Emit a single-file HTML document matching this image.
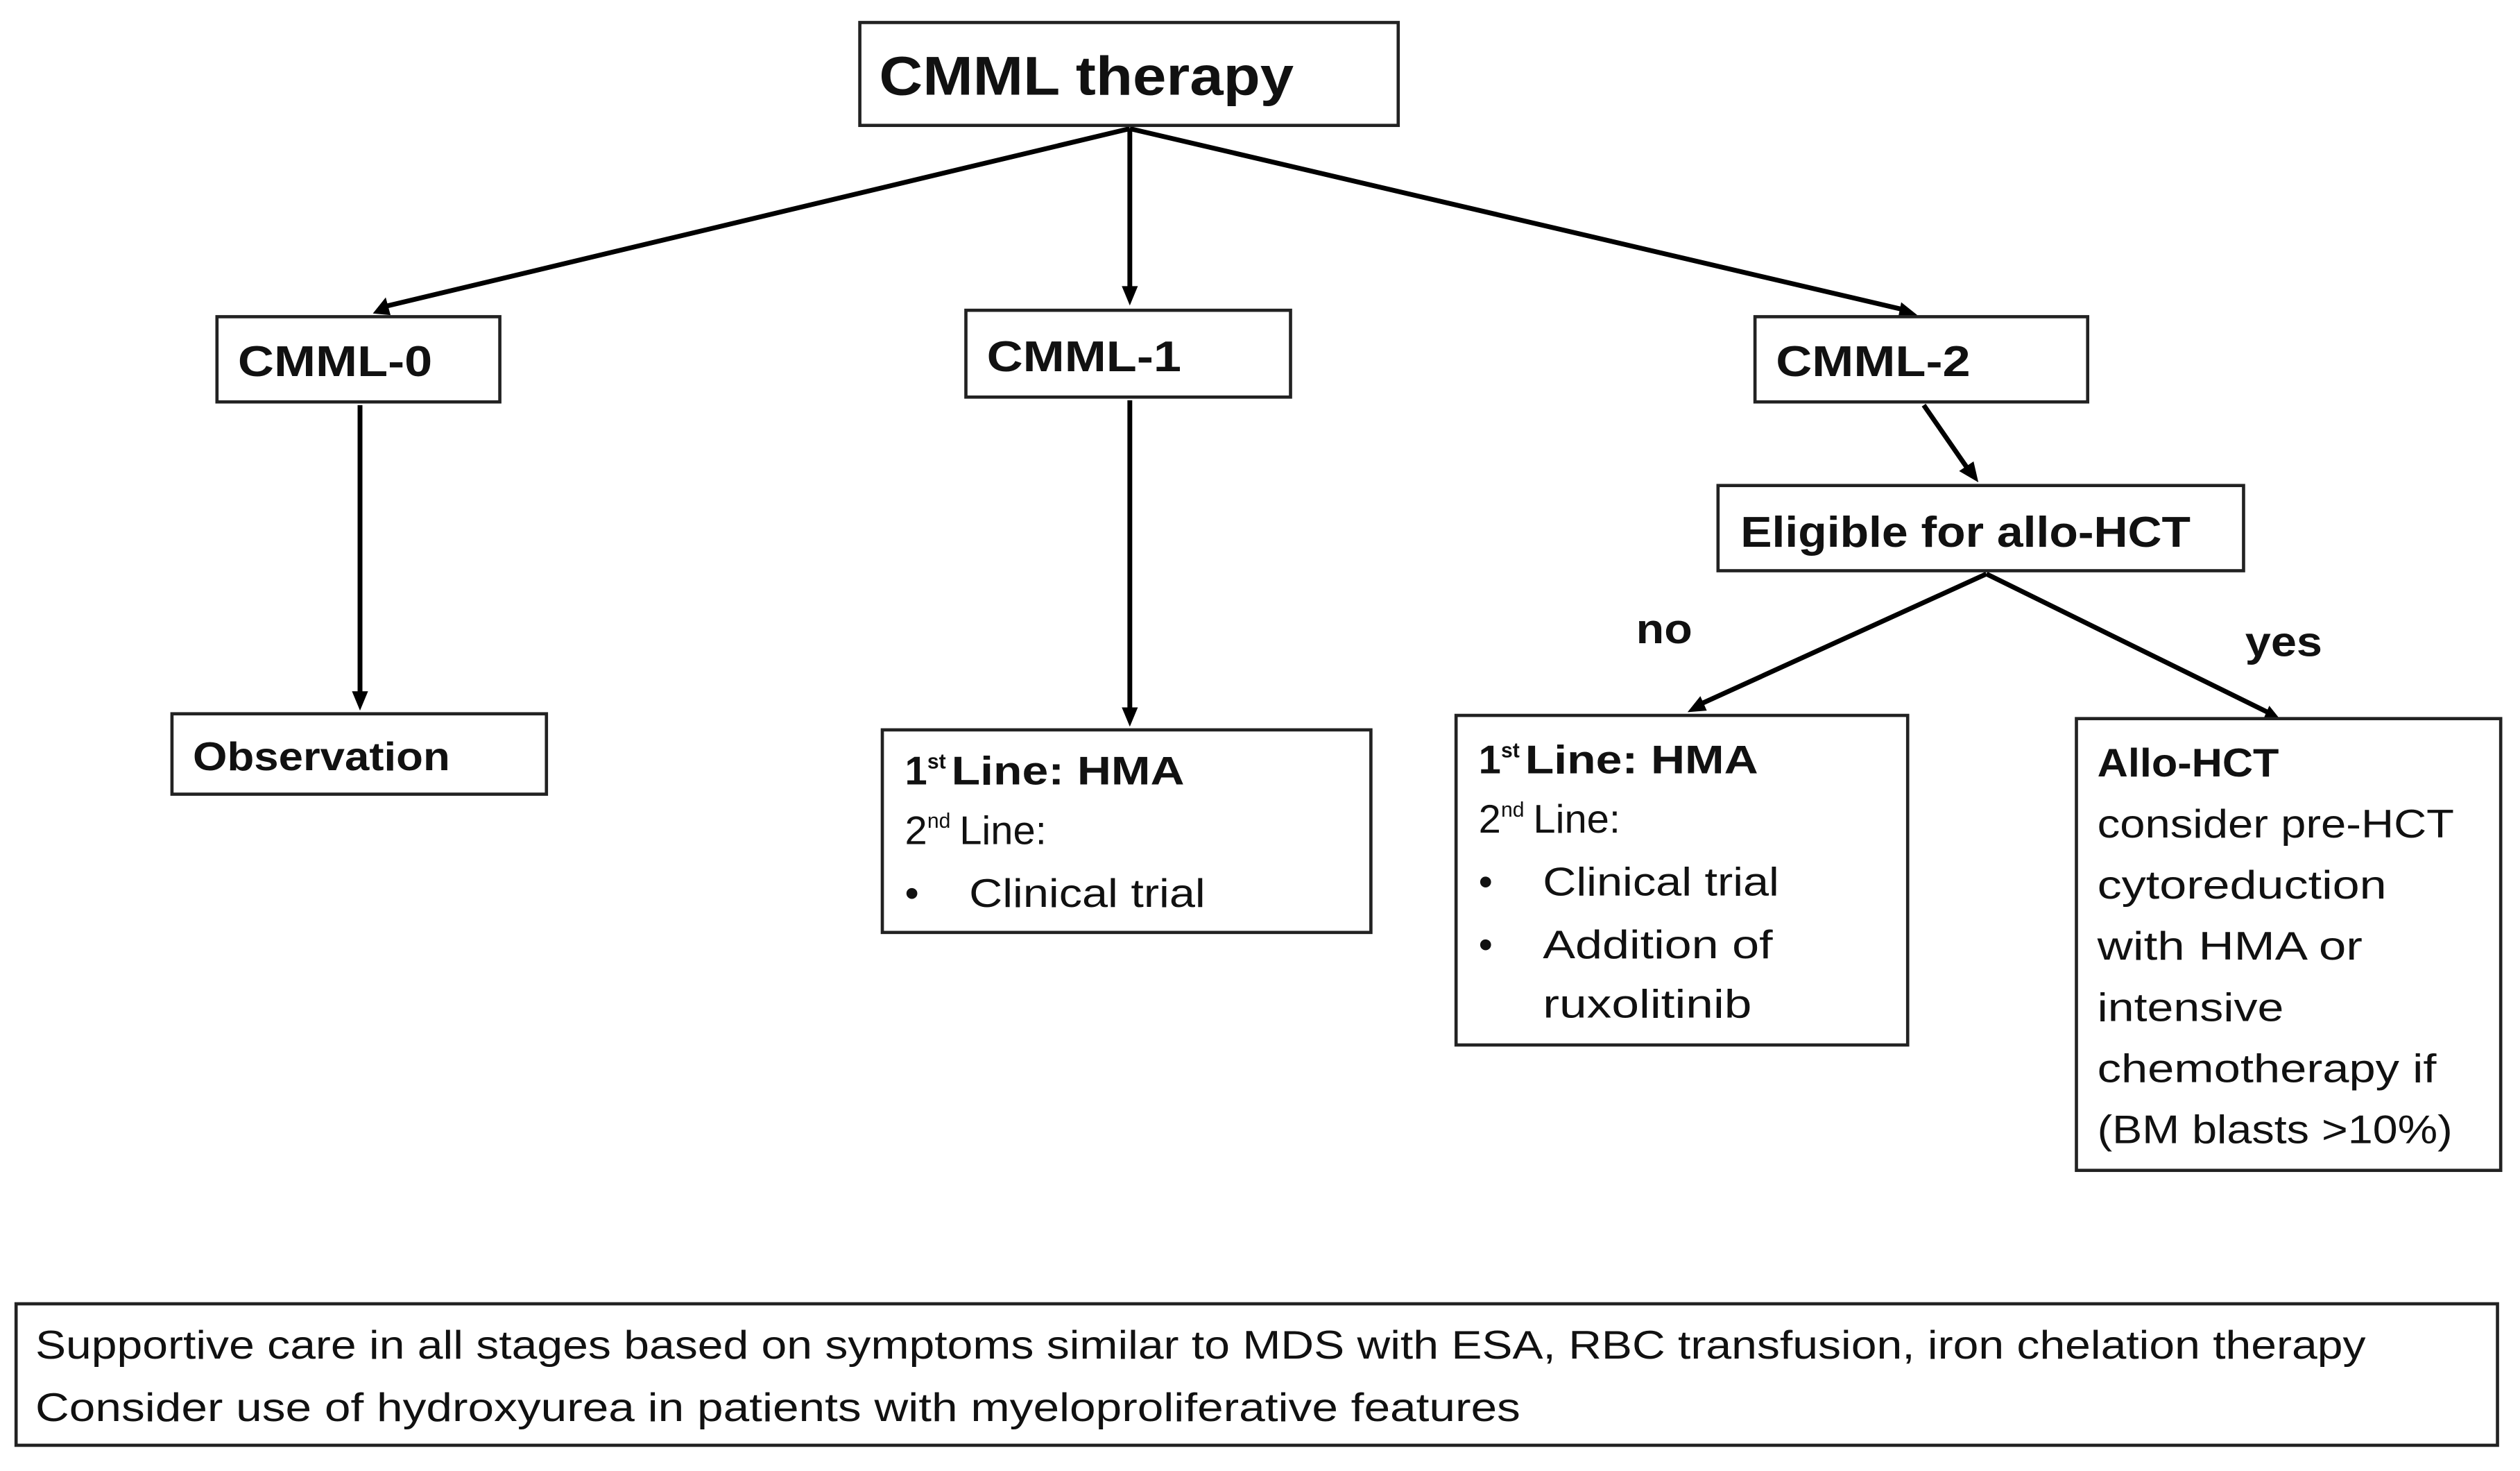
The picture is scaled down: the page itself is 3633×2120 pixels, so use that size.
<!DOCTYPE html>
<html><head><meta charset="utf-8"><style>html,body{margin:0;padding:0;background:#fff}svg{display:block}</style></head>
<body>
<svg width="3633" height="2120" viewBox="0 0 1568 915" xmlns="http://www.w3.org/2000/svg" font-family="Liberation Sans, sans-serif" fill="#111">
<g stroke="#000" fill="none" stroke-width="3">
<line x1="703" y1="80" x2="238" y2="191"/>
<line x1="703" y1="80" x2="703" y2="182"/>
<line x1="703" y1="80" x2="1186" y2="193"/>
<line x1="224" y1="252" x2="224" y2="432"/>
<line x1="703" y1="249" x2="703" y2="441"/>
<line x1="1197" y1="252" x2="1224" y2="291"/>
<line x1="1236" y1="357" x2="1058" y2="438"/>
<line x1="1236" y1="357" x2="1413" y2="444"/>
</g>
<g fill="#000">
<path d="M232,195 L240,185 L243,196 z"/>
<path d="M703,190 L698,178 L708,178 z"/>
<path d="M1193,196 L1181,198 L1183,188 z"/>
<path d="M224,442 L219,430 L229,430 z"/>
<path d="M703,452 L698,440 L708,440 z"/>
<path d="M1231,300 L1219,293 L1228,287 z"/>
<path d="M1050,443 L1058,433 L1062,442 z"/>
<path d="M1420,449 L1408,448 L1412,439 z"/>
</g>
<g stroke="#222" stroke-width="2" fill="#fff">
<rect x="535" y="14" width="335" height="64"/>
<rect x="135" y="197" width="176" height="53"/>
<rect x="601" y="193" width="202" height="54"/>
<rect x="1092" y="197" width="207" height="53"/>
<rect x="1069" y="302" width="327" height="53"/>
<rect x="107" y="444" width="233" height="50"/>
<rect x="549" y="454" width="304" height="126"/>
<rect x="906" y="445" width="281" height="205"/>
<rect x="1292" y="447" width="264" height="281"/>
<rect x="10" y="811" width="1544" height="88"/>
</g>
<g font-weight="bold">
<text x="547" y="59" font-size="34" textLength="258" lengthAdjust="spacingAndGlyphs">CMML therapy</text>
<text x="148" y="234" font-size="27" textLength="121" lengthAdjust="spacingAndGlyphs">CMML-0</text>
<text x="614" y="231" font-size="27" textLength="121" lengthAdjust="spacingAndGlyphs">CMML-1</text>
<text x="1105" y="234" font-size="27" textLength="121" lengthAdjust="spacingAndGlyphs">CMML-2</text>
<text x="1083" y="340" font-size="27" textLength="280" lengthAdjust="spacingAndGlyphs">Eligible for allo-HCT</text>
<text x="120" y="479" font-size="25" textLength="160" lengthAdjust="spacingAndGlyphs">Observation</text>
<text x="1018" y="400" font-size="26" textLength="35" lengthAdjust="spacingAndGlyphs">no</text>
<text x="1397" y="408" font-size="26" textLength="48" lengthAdjust="spacingAndGlyphs">yes</text>
<text x="1305" y="483" font-size="25" textLength="113" lengthAdjust="spacingAndGlyphs">Allo-HCT</text>
<text x="563" y="488" font-size="25">1</text>
<text x="577" y="478" font-size="13">st</text>
<text x="592" y="488" font-size="25" textLength="145" lengthAdjust="spacingAndGlyphs">Line: HMA</text>
<text x="920" y="481" font-size="25">1</text>
<text x="934" y="471" font-size="13">st</text>
<text x="949" y="481" font-size="25" textLength="145" lengthAdjust="spacingAndGlyphs">Line: HMA</text>
</g>
<g font-size="25">
<text x="563" y="525">2</text><text x="577" y="515" font-size="13">nd</text><text x="597" y="525">Line:</text>
<text x="563" y="564">•</text>
<text x="603" y="564" textLength="147" lengthAdjust="spacingAndGlyphs">Clinical trial</text>
<text x="920" y="518">2</text><text x="934" y="508" font-size="13">nd</text><text x="954" y="518">Line:</text>
<text x="920" y="557">•</text>
<text x="960" y="557" textLength="147" lengthAdjust="spacingAndGlyphs">Clinical trial</text>
<text x="920" y="596">•</text>
<text x="960" y="596" textLength="143" lengthAdjust="spacingAndGlyphs">Addition of</text>
<text x="960" y="633" textLength="130" lengthAdjust="spacingAndGlyphs">ruxolitinib</text>
<text x="1305" y="521" textLength="222" lengthAdjust="spacingAndGlyphs">consider pre-HCT</text>
<text x="1305" y="559" textLength="180" lengthAdjust="spacingAndGlyphs">cytoreduction</text>
<text x="1305" y="597" textLength="165" lengthAdjust="spacingAndGlyphs">with HMA or</text>
<text x="1305" y="635" textLength="116" lengthAdjust="spacingAndGlyphs">intensive</text>
<text x="1305" y="673" textLength="211" lengthAdjust="spacingAndGlyphs">chemotherapy if</text>
<text x="1305" y="711" textLength="221" lengthAdjust="spacingAndGlyphs">(BM blasts &gt;10%)</text>
<text x="22" y="845" textLength="1450" lengthAdjust="spacingAndGlyphs">Supportive care in all stages based on symptoms similar to MDS with ESA, RBC transfusion, iron chelation therapy</text>
<text x="22" y="884" textLength="924" lengthAdjust="spacingAndGlyphs">Consider use of hydroxyurea in patients with myeloproliferative features</text>
</g>
</svg>
</body></html>
